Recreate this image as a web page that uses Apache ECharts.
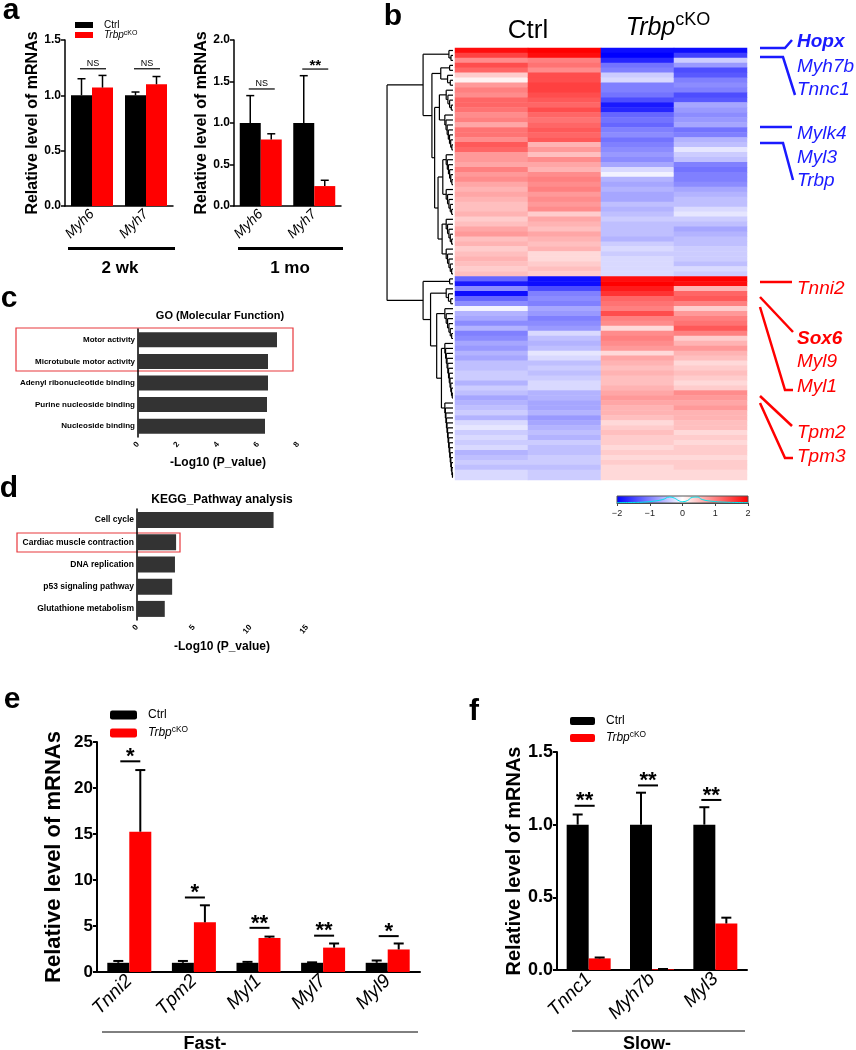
<!DOCTYPE html>
<html>
<head>
<meta charset="utf-8">
<script src="https://cdn.jsdelivr.net/npm/echarts@6/dist/echarts.min.js"></script>
<style>
  html, body { margin: 0; padding: 0; background: #fff; }
  #chart { width: 856px; height: 1050px; }
</style>
</head>
<body>
<div id="chart"></div>
<script>
/* figure: qPCR bars (a, e, f), DEG heatmap (b), GO / KEGG enrichment (c, d) */
const FONT = '"Liberation Sans", Arial, Helvetica, sans-serif';
const KO = 'TrbpcKO';
const RED = '#ff0000';

// ---- a: Myh6 / Myh7 at 2 wk and 1 mo ----
const aGenes = ['Myh6', 'Myh7'];
const a2wkCtrl = [1.0, 1.0];
const a2wkCtrlErr = [0.15, 0.03];
const a2wkKO = [1.07, 1.10];
const a2wkKOErr = [0.11, 0.07];
const a2wkSig = ['NS', 'NS'];
const a2wkSigY = [1.24, 1.24];
const a1moCtrl = [1.0, 1.0];
const a1moCtrlErr = [0.33, 0.57];
const a1moKO = [0.80, 0.24];
const a1moKOErr = [0.07, 0.07];
const a1moSig = ['NS', '**'];
const a1moSigY = [1.41, 1.65];

// ---- b: heatmap, 87 rows (46 up in Ctrl, 41 up in cKO) ----
const heatCols = ['Ctrl1', 'Ctrl2', 'KO1', 'KO2'];
const heatCtrl1 = [1.9,1.5,0.9,1.4,1.2,0.4,0.1,0.8,1.0,0.9,1.2,1.2,1.1,0.9,1.0,0.7,1.1,1.1,0.9,1.3,1.2,0.8,0.8,0.7,1.0,0.8,0.9,0.7,0.6,0.7,0.6,0.5,0.5,0.6,0.4,0.5,0.7,0.8,0.5,0.6,0.4,0.5,0.6,0.5,0.4,0.5,
  -1.2,-1.8,-0.9,-1.9,-1.2,-0.9,-0.1,-0.6,-0.7,-0.9,-0.6,-1.0,-0.9,-0.7,-0.8,-0.6,-0.7,-0.5,-0.5,-0.4,-0.4,-0.6,-0.4,-0.5,-0.7,-0.6,-0.5,-0.4,-0.6,-0.3,-0.2,-0.4,-0.3,-0.4,-0.3,-0.6,-0.5,-0.4,-0.5,-0.3,-0.3];
const heatCtrl2 = [2.0,1.9,1.0,1.1,0.9,1.4,1.4,1.5,1.5,1.4,1.3,1.2,1.4,1.2,1.1,1.2,1.3,1.2,1.3,0.6,0.8,0.5,0.9,0.7,0.6,0.9,1.0,0.9,1.0,0.8,0.9,0.8,0.9,0.4,0.7,0.6,0.5,0.7,0.6,0.5,0.6,0.3,0.3,0.4,0.5,0.4,
  -1.9,-1.9,-1.4,-1.0,-0.9,-1.0,-0.7,-0.8,-1.0,-0.9,-0.8,-0.3,-0.5,-0.6,-0.5,-0.2,-0.3,-0.5,-0.4,-0.5,-0.4,-0.3,-0.3,-0.6,-0.6,-0.7,-0.7,-0.6,-0.8,-0.7,-0.6,-0.5,-0.6,-0.4,-0.5,-0.5,-0.4,-0.4,-0.5,-0.4,-0.4];
const heatKO1 = [-1.9,-2.0,-1.7,-1.1,-1.0,-0.4,-0.3,-1.0,-1.0,-1.1,-1.4,-1.8,-1.7,-1.2,-1.1,-1.2,-1.0,-0.9,-1.1,-1.0,-0.9,-0.8,-0.9,-0.7,-0.3,-0.1,-0.6,-0.7,-0.6,-0.7,-0.7,-0.5,-0.6,-0.5,-0.4,-0.5,-0.5,-0.5,-0.6,-0.4,-0.3,-0.4,-0.3,-0.3,-0.3,-0.3,
  1.9,2.0,1.8,1.6,1.2,1.1,1.0,1.4,1.0,0.9,0.3,0.9,1.0,0.9,0.8,0.3,0.7,0.6,0.5,0.6,0.5,0.5,0.6,0.7,0.8,0.7,0.6,0.6,0.5,0.3,0.4,0.5,0.4,0.4,0.3,0.4,0.3,0.4,0.3,0.3,0.3];
const heatKO2 = [-1.9,-1.5,-0.4,-0.8,-1.4,-1.3,-1.0,-0.9,-1.0,-1.4,-1.3,-0.7,-0.8,-0.9,-0.8,-0.7,-1.1,-1.0,-0.6,-0.5,-0.2,-0.4,-0.5,-1.0,-1.1,-1.0,-1.0,-0.9,-0.7,-0.6,-0.5,-0.5,-0.3,-0.2,-0.4,-0.5,-0.7,-0.6,-0.5,-0.5,-0.4,-0.4,-0.4,-0.5,-0.3,-0.4,
  2.0,1.9,0.6,1.2,1.3,1.0,0.4,0.8,1.0,1.1,1.3,1.0,0.4,0.6,0.8,0.6,0.5,0.3,0.4,0.5,0.4,0.3,0.4,0.9,0.8,0.7,0.8,0.6,0.6,0.5,0.5,0.3,0.4,0.3,0.4,0.4,0.3,0.4,0.4,0.3,0.3];
// row dendrogram: [height, left, right]; {r:[lo,hi], h} = tight comb of neighbouring rows
const dendroTree = [0.97,
  [0.44,
    { r: [0, 2], h: 0.06 },
    [0.31,
      [0.18, { r: [3, 4], h: 0.05 }, { r: [5, 7], h: 0.08 }],
      [0.27,
        [0.2, { r: [8, 12], h: 0.1 }, { r: [13, 20], h: 0.12 }],
        [0.22, [0.15, { r: [21, 27], h: 0.1 }, { r: [28, 33], h: 0.1 }],
               [0.16, { r: [34, 39], h: 0.1 }, { r: [40, 45], h: 0.1 }]]]]],
  [0.44,
    { r: [46, 47], h: 0.05 },
    [0.33,
      { r: [48, 51], h: 0.1 },
      [0.24,
        { r: [52, 58], h: 0.12 },
        [0.17, { r: [59, 70], h: 0.12 }, { r: [71, 86], h: 0.12 }]]]]];
const keyDensX = [-2, -1.6, -1.2, -0.9, -0.6, -0.4, -0.25, -0.1, 0, 0.15, 0.3, 0.45, 0.6, 0.9, 1.3, 1.7, 2];
const keyDensY = [0.05, 0.07, 0.12, 0.25, 0.5, 0.85, 0.7, 0.3, 0.2, 0.35, 0.8, 0.85, 0.5, 0.25, 0.12, 0.07, 0.05];

// ---- c / d: enrichment ----
const goTerms = ['Motor activity', 'Microtubule motor activity', 'Adenyl ribonucleotide binding', 'Purine nucleoside binding', 'Nucleoside binding'];
const goVals = [6.95, 6.5, 6.5, 6.45, 6.35];
const keggTerms = ['Cell cycle', 'Cardiac muscle contraction', 'DNA replication', 'p53 signaling pathway', 'Glutathione metabolism'];
const keggVals = [12.05, 3.45, 3.35, 3.1, 2.45];

// ---- e: fast-twitch genes ----
const eGenes = ['Tnni2', 'Tpm2', 'Myl1', 'Myl7', 'Myl9'];
const eCtrl = [1.0, 1.0, 1.0, 1.0, 1.0];
const eCtrlErr = [0.2, 0.2, 0.1, 0.05, 0.25];
const eKO = [15.25, 5.4, 3.7, 2.65, 2.45];
const eKOErr = [6.7, 1.85, 0.15, 0.45, 0.65];
const eSig = ['*', '*', '**', '**', '*'];
const eSigY = [22.9, 8.1, 4.8, 3.95, 3.9];

// ---- f: slow-twitch genes ----
const fGenes = ['Tnnc1', 'Myh7b', 'Myl3'];
const fCtrl = [1.0, 1.0, 1.0];
const fCtrlErr = [0.07, 0.22, 0.12];
const fKO = [0.08, 0.005, 0.32];
const fKOErr = [0.006, 0.002, 0.04];
const fSig = ['**', '**', '**'];
const fSigY = [1.13, 1.27, 1.17];

// ============================================================
const chart = echarts.init(document.getElementById('chart'));

const AX = { color: '#000', width: 1.5 };

function catX(gi, cats, fs, w) {
  return {
    type: 'category', gridIndex: gi, data: cats,
    axisLine: { lineStyle: { color: '#000', width: w } },
    axisTick: { alignWithLabel: true, length: 4, lineStyle: { color: '#000', width: w } },
    axisLabel: { rotate: 45, interval: 0, fontStyle: 'italic', color: '#000', fontSize: fs, margin: 6, fontFamily: FONT },
  };
}
function valY(gi, max, step, fs, w, dec, nameFs, nameGap) {
  return {
    type: 'value', gridIndex: gi, min: 0, max, interval: step,
    splitLine: { show: false },
    axisLine: { show: true, lineStyle: { color: '#000', width: w } },
    axisTick: { show: true, length: 4, lineStyle: { color: '#000', width: w } },
    axisLabel: { color: '#000', fontSize: fs, fontWeight: 'bold', margin: 4, fontFamily: FONT,
      formatter: (v) => v.toFixed(dec) },
    name: 'Relative level of mRNAs', nameLocation: 'middle', nameGap,
    nameTextStyle: { fontSize: nameFs, fontWeight: 'bold', color: '#000', fontFamily: FONT },
  };
}
function barPair(gi, ctrl, ko, bw) {
  return [
    { name: 'Ctrl', type: 'bar', xAxisIndex: gi, yAxisIndex: gi, data: ctrl, barWidth: bw, barGap: '0%',
      itemStyle: { color: '#000' }, silent: true },
    { name: KO, type: 'bar', xAxisIndex: gi, yAxisIndex: gi, data: ko, barWidth: bw, barGap: '0%',
      itemStyle: { color: RED }, silent: true },
  ];
}
// upper error bar (GraphPad style), side -1 = left bar, +1 = right bar
function errBars(gi, vals, errs, side, bw, cap, lw) {
  return {
    type: 'custom', xAxisIndex: gi, yAxisIndex: gi, z: 5, silent: true,
    data: vals.map((v, i) => [i, v, v + errs[i]]),
    encode: { x: 0, y: [1, 2] },
    renderItem(p, api) {
      const lo = api.coord([api.value(0), api.value(1)]);
      const hi = api.coord([api.value(0), api.value(2)]);
      const x = lo[0] + side * bw / 2;
      const st = { stroke: '#000', lineWidth: lw };
      return { type: 'group', children: [
        { type: 'line', shape: { x1: x, y1: lo[1], x2: x, y2: hi[1] }, style: st },
        { type: 'line', shape: { x1: x - cap, y1: hi[1], x2: x + cap, y2: hi[1] }, style: st },
      ] };
    },
  };
}
function sigMarks(gi, ys, labels, hw, dx, fs, lw) {
  return {
    type: 'custom', xAxisIndex: gi, yAxisIndex: gi, z: 6, silent: true,
    data: ys.map((y, i) => [i, y]),
    encode: { x: 0, y: 1 },
    renderItem(p, api) {
      const c = api.coord([api.value(0), api.value(1)]);
      const t = labels[p.dataIndex];
      const ns = t === 'NS';
      const x = c[0] + dx;
      return { type: 'group', children: [
        { type: 'line', shape: { x1: x - hw, y1: c[1], x2: x + hw, y2: c[1] }, style: { stroke: '#000', lineWidth: lw } },
        { type: 'text', x, y: ns ? c[1] - 1 : c[1] - fs * 0.2,
          style: { text: t, align: 'center', verticalAlign: ns ? 'bottom' : 'middle', fill: '#000',
            fontFamily: FONT, fontSize: ns ? 9 : fs, fontWeight: ns ? 'normal' : 'bold' } },
      ] };
    },
  };
}
function legendBox(left, top, iw, ih, fs, lh, gap, icon) {
  return {
    left, top, orient: 'vertical', icon, itemWidth: iw, itemHeight: ih, itemGap: gap,
    selectedMode: false, data: ['Ctrl', KO],
    formatter: (n) => (n === KO ? '{i|Trbp}{s|cKO}' : '{n|Ctrl}'),
    textStyle: { color: '#000', fontFamily: FONT, fontSize: fs, padding: [0, 0, 0, 6],
      rich: {
        n: { fontSize: fs, lineHeight: lh, fontFamily: FONT },
        i: { fontSize: fs, lineHeight: lh, fontStyle: 'italic', fontFamily: FONT },
        s: { fontSize: fs * 0.7, lineHeight: fs * 0.7, verticalAlign: 'top', fontFamily: FONT },
      } },
  };
}
function enrichY(gi, terms, fs) {
  return {
    type: 'category', gridIndex: gi, data: terms, inverse: true,
    axisLine: { lineStyle: AX },
    axisTick: { alignWithLabel: true, length: 3, lineStyle: AX },
    axisLabel: { color: '#000', fontSize: fs, fontWeight: 'bold', margin: 3, fontFamily: FONT },
  };
}
function enrichX(gi, max, step, gap) {
  return {
    type: 'value', gridIndex: gi, min: 0, max, interval: step,
    splitLine: { show: false }, axisLine: { show: false }, axisTick: { show: false },
    axisLabel: { rotate: 50, color: '#000', fontSize: 8, fontWeight: 'bold', margin: 6, fontFamily: FONT },
    name: '-Log10 (P_value)', nameLocation: 'middle', nameGap: gap,
    nameTextStyle: { fontSize: 12, fontWeight: 'bold', color: '#000', fontFamily: FONT },
  };
}

// dendrogram segments [h1, y1, h2, y2] in (height, row) units
const dendroSegs = [];
function walkTree(node) {
  if (node.r) {
    const [lo, hi] = node.r;
    let cur = { y: hi, h: 0 };
    for (let i = hi - 1; i >= lo; i--) {
      const h = node.h * (hi - i) / (hi - lo);
      dendroSegs.push([0, i, h, i], [cur.h, cur.y, h, cur.y], [h, i, h, cur.y]);
      cur = { y: (i + cur.y) / 2, h };
    }
    return cur;
  }
  const [h, a, b] = node;
  const L = walkTree(a), R = walkTree(b);
  dendroSegs.push([L.h, L.y, h, L.y], [R.h, R.y, h, R.y], [h, L.y, h, R.y]);
  return { y: (L.y + R.y) / 2, h };
}
walkTree(dendroTree);

const heatRows = heatCtrl1.map((_, i) => String(i));
const heatData = [];
[heatCtrl1, heatCtrl2, heatKO1, heatKO2].forEach((col, c) => col.forEach((v, r) => heatData.push([c, r, v])));

// grids: 0 a-2wk, 1 a-1mo, 2 dendrogram, 3 heatmap, 4 key, 5 GO, 6 KEGG, 7 e, 8 f
const grid = [
  { left: 65, top: 40, width: 108, height: 166 },
  { left: 234, top: 40, width: 107, height: 166 },
  { left: 385, top: 48, width: 68, height: 432 },
  { left: 455, top: 48, width: 292, height: 432 },
  { left: 617, top: 496, width: 131, height: 7 },
  { left: 138, top: 329, width: 160, height: 108 },
  { left: 137, top: 509, width: 170, height: 111 },
  { left: 97, top: 742, width: 323, height: 230 },
  { left: 557, top: 752, width: 190, height: 218 },
];

const xAxis = [
  catX(0, aGenes, 14, 1.5),
  catX(1, aGenes, 14, 1.5),
  { type: 'value', gridIndex: 2, min: 0, max: 1, inverse: true, show: false },
  { type: 'category', gridIndex: 3, data: heatCols, show: false },
  { type: 'value', gridIndex: 4, min: -2, max: 2, interval: 1,
    splitLine: { show: false },
    axisLine: { show: true, lineStyle: { color: '#444', width: 1 } },
    axisTick: { show: true, length: 3, lineStyle: { color: '#444' } },
    axisLabel: { fontSize: 9, color: '#222', margin: 6, fontFamily: FONT,
      formatter: (v) => String(v).replace('-', '\u2212') } },
  enrichX(5, 8, 2, 20),
  enrichX(6, 15, 5, 21),
  catX(7, eGenes, 19, 2),
  catX(8, fGenes, 19, 2),
];
const yAxis = [
  valY(0, 1.5, 0.5, 12, 1.5, 1, 16, 20),
  valY(1, 2.0, 0.5, 12, 1.5, 1, 16, 19),
  { type: 'value', gridIndex: 2, min: -0.5, max: heatRows.length - 0.5, inverse: true, show: false },
  { type: 'category', gridIndex: 3, data: heatRows, inverse: true, show: false },
  { type: 'value', gridIndex: 4, min: 0, max: 1, show: false },
  enrichY(5, goTerms, 8),
  enrichY(6, keggTerms, 8.5),
  valY(7, 25, 5, 17, 2, 0, 22, 32),
  valY(8, 1.5, 0.5, 18, 2, 1, 20, 31),
];

const series = [
  ...barPair(0, a2wkCtrl, a2wkKO, 21),
  errBars(0, a2wkCtrl, a2wkCtrlErr, -1, 21, 4, 1.5),
  errBars(0, a2wkKO, a2wkKOErr, 1, 21, 4, 1.5),
  sigMarks(0, a2wkSigY, a2wkSig, 13, 1, 15, 1.2),
  ...barPair(1, a1moCtrl, a1moKO, 21),
  errBars(1, a1moCtrl, a1moCtrlErr, -1, 21, 4, 1.5),
  errBars(1, a1moKO, a1moKOErr, 1, 21, 4, 1.5),
  sigMarks(1, a1moSigY, a1moSig, 13, 1, 15, 1.2),
  {
    type: 'custom', xAxisIndex: 2, yAxisIndex: 2, silent: true, data: dendroSegs,
    encode: { x: [0, 2], y: [1, 3] },
    renderItem(p, api) {
      const a = api.coord([api.value(0), api.value(1)]);
      const b = api.coord([api.value(2), api.value(3)]);
      return { type: 'line', shape: { x1: a[0], y1: a[1], x2: b[0], y2: b[1] }, style: { stroke: '#000', lineWidth: 1.2 } };
    },
  },
  { id: 'heat', type: 'heatmap', xAxisIndex: 3, yAxisIndex: 3, data: heatData, silent: true,
    itemStyle: { borderWidth: 0 } },
  {
    type: 'custom', xAxisIndex: 4, yAxisIndex: 4, silent: true, data: [[-2, 0, 2, 1]],
    encode: { x: [0, 2], y: [1, 3] },
    renderItem(p, api) {
      const a = api.coord([api.value(0), api.value(3)]);
      const b = api.coord([api.value(2), api.value(1)]);
      return { type: 'rect', shape: { x: a[0], y: a[1], width: b[0] - a[0], height: b[1] - a[1] },
        style: { stroke: '#555', lineWidth: 1,
          fill: new echarts.graphic.LinearGradient(0, 0, 1, 0, [
            { offset: 0, color: '#0000ff' }, { offset: 0.5, color: '#ffffff' }, { offset: 1, color: '#ff0000' }]) } };
    },
  },
  { type: 'line', xAxisIndex: 4, yAxisIndex: 4, silent: true, smooth: true, symbol: 'none', z: 4,
    data: keyDensX.map((x, i) => [x, keyDensY[i]]), lineStyle: { color: '#00e5ee', width: 1 } },
  { type: 'bar', xAxisIndex: 5, yAxisIndex: 5, data: goVals, barWidth: 15, silent: true, itemStyle: { color: '#333333' } },
  { type: 'bar', xAxisIndex: 6, yAxisIndex: 6, data: keggVals, barWidth: 16, silent: true, itemStyle: { color: '#333333' } },
  ...barPair(7, eCtrl, eKO, 22),
  errBars(7, eCtrl, eCtrlErr, -1, 22, 5, 2),
  errBars(7, eKO, eKOErr, 1, 22, 5, 2),
  sigMarks(7, eSigY, eSig, 10, 1, 22, 2),
  ...barPair(8, fCtrl, fKO, 22),
  errBars(8, fCtrl, fCtrlErr, -1, 22, 5, 2),
  errBars(8, fKO, fKOErr, 1, 22, 5, 2),
  sigMarks(8, fSigY, fSig, 10, -4, 22, 2),
];

// ---- free text & annotation strokes ----
const txt = (text, x, y, o = {}) => ({
  type: 'text', silent: true,
  style: Object.assign({ text, x, y, fill: '#000', fontFamily: FONT, fontSize: 12, align: 'center', verticalAlign: 'middle' }, o),
});
const pline = (pts, color, w) => ({
  type: 'polyline', silent: true, shape: { points: pts }, style: { stroke: color, lineWidth: w, fill: null },
});
const letter = (l, x, y) => txt(l, x, y, { fontSize: 30, fontWeight: 'bold' });
const BLUE = '#1a1aff';
const geneTxt = (g, y, color, bold) => txt(g, 797, y, { fill: color, fontSize: 19, fontStyle: 'italic',
  fontWeight: bold ? 'bold' : 'normal', align: 'left' });

const graphic = [
  letter('a', 11, 11), letter('b', 393, 17), letter('c', 9, 299), letter('d', 9, 489),
  letter('e', 12, 700), letter('f', 474, 712),
  // group bars under a
  { type: 'rect', silent: true, shape: { x: 68, y: 247, width: 107, height: 3 }, style: { fill: '#000' } },
  { type: 'rect', silent: true, shape: { x: 238, y: 247, width: 105, height: 3 }, style: { fill: '#000' } },
  txt('2 wk', 120, 268, { fontSize: 17, fontWeight: 'bold' }),
  txt('1 mo', 290, 268, { fontSize: 17, fontWeight: 'bold' }),
  // heatmap column headers
  txt('Ctrl', 528, 31, { fontSize: 26 }),
  txt('{i|Trbp}{s|cKO}', 668, 28, { rich: {
    i: { fontSize: 25, fontStyle: 'italic', fontFamily: FONT, lineHeight: 34 },
    s: { fontSize: 18, fontFamily: FONT, lineHeight: 18, verticalAlign: 'top' } } }),
  // gene call-outs
  pline([[760, 48], [785, 48], [792, 40]], BLUE, 2.5),
  pline([[760, 57], [783, 57], [795, 95]], BLUE, 2.5),
  pline([[760, 127], [792, 127]], BLUE, 2.5),
  pline([[760, 143], [783, 143], [793, 180]], BLUE, 2.5),
  geneTxt('Hopx', 42, BLUE, true), geneTxt('Myh7b', 67, BLUE), geneTxt('Tnnc1', 90, BLUE),
  geneTxt('Mylk4', 134, BLUE), geneTxt('Myl3', 158, BLUE), geneTxt('Trbp', 181, BLUE),
  pline([[760, 282], [792, 282]], RED, 2.5),
  pline([[760, 297], [793, 332]], RED, 2.5),
  pline([[760, 307], [785, 390], [793, 390]], RED, 2.5),
  pline([[760, 396], [792, 426]], RED, 2.5),
  pline([[760, 403], [785, 458], [793, 458]], RED, 2.5),
  geneTxt('Tnni2', 289, RED), geneTxt('Sox6', 339, RED, true), geneTxt('Myl9', 362, RED),
  geneTxt('Myl1', 387, RED), geneTxt('Tpm2', 433, RED), geneTxt('Tpm3', 457, RED),
  // enrichment titles + highlight boxes
  txt('GO (Molecular Function)', 220, 316, { fontSize: 11, fontWeight: 'bold' }),
  txt('KEGG_Pathway analysis', 222, 500, { fontSize: 12, fontWeight: 'bold' }),
  { type: 'rect', silent: true, shape: { x: 16, y: 328, width: 277, height: 43 }, style: { fill: null, stroke: '#e8383d', lineWidth: 1.2 } },
  { type: 'rect', silent: true, shape: { x: 17, y: 533, width: 163, height: 19 }, style: { fill: null, stroke: '#e8383d', lineWidth: 1.2 } },
  // fast / slow brackets
  pline([[102, 1032], [418, 1032]], '#000', 1),
  txt('Fast-', 205, 1044, { fontSize: 18, fontWeight: 'bold' }),
  pline([[572, 1031], [745, 1031]], '#000', 1),
  txt('Slow-', 647, 1044, { fontSize: 18, fontWeight: 'bold' }),
];

chart.setOption({
  backgroundColor: '#fff',
  animation: false,
  textStyle: { fontFamily: FONT },
  grid, xAxis, yAxis, series, graphic,
  legend: [
    legendBox(70, 15, 18, 6, 10, 10, 0, 'rect'),
    legendBox(105, 704, 27, 9, 12, 14, 5, 'roundRect'),
    legendBox(565, 710, 25, 8, 12, 14, 4, 'roundRect'),
  ],
  visualMap: {
    show: false, type: 'continuous', min: -2, max: 2, seriesId: 'heat', dimension: 2,
    inRange: { color: ['#0000ff', '#ffffff', '#ff0000'] },
  },
});
</script>
</body>
</html>
